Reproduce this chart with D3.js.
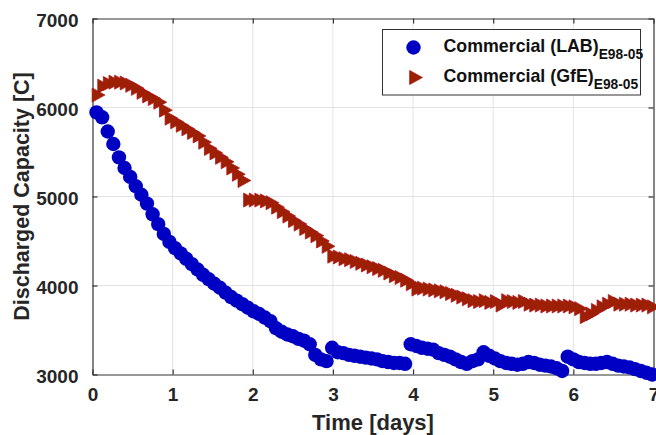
<!DOCTYPE html>
<html>
<head>
<meta charset="utf-8">
<script src="https://cdn.jsdelivr.net/npm/d3@7"></script>
<style>
  html, body { margin: 0; padding: 0; background: #fff; }
  svg { display: block; font-family: "Liberation Sans", Arial, sans-serif; }
</style>
</head>
<body>
<svg id="chart" width="656" height="435"></svg>
<script>
// Sampling times (days) shared by both cells
const days = [0.05,0.12,0.19,0.26,0.33,0.40,0.47,0.54,0.61,0.68,0.75,0.82,0.89,0.96,1.03,1.10,1.17,1.24,1.31,1.38,
  1.45,1.52,1.59,1.66,1.73,1.80,1.87,1.94,2.01,2.08,2.15,2.22,2.29,2.36,2.43,2.50,2.57,2.64,2.71,2.78,
  2.85,2.92,2.99,3.06,3.13,3.20,3.27,3.34,3.41,3.48,3.55,3.62,3.69,3.76,3.83,3.90,3.97,4.04,4.11,4.18,
  4.25,4.32,4.39,4.46,4.53,4.60,4.67,4.74,4.81,4.88,4.95,5.02,5.09,5.16,5.23,5.30,5.37,5.44,5.51,5.58,
  5.65,5.72,5.79,5.86,5.93,6.00,6.07,6.14,6.21,6.28,6.35,6.42,6.49,6.56,6.63,6.70,6.77,6.84,6.91,6.98];

// Discharged capacity [C], Commercial (LAB) E98-05
const capacityLAB = [5945,5890,5730,5590,5440,5320,5220,5115,5020,4920,4800,4690,4580,4490,4420,4360,4300,4240,4180,4120,
  4070,4020,3975,3920,3870,3830,3790,3750,3710,3680,3640,3600,3520,3480,3450,3430,3400,3380,3340,3220,
  3170,3150,3300,3250,3240,3220,3210,3200,3190,3180,3170,3150,3140,3130,3130,3120,3340,3320,3300,3290,
  3280,3240,3220,3200,3170,3140,3120,3150,3170,3250,3210,3180,3150,3130,3120,3110,3120,3140,3130,3110,
  3100,3090,3070,3040,3200,3170,3140,3130,3120,3120,3130,3140,3120,3100,3090,3080,3060,3040,3020,3000];

// Discharged capacity [C], Commercial (GfE) E98-05
const capacityGfE = [6140,6240,6270,6285,6285,6275,6250,6215,6170,6130,6100,6060,5970,5880,5840,5800,5760,5720,5680,5610,
  5540,5490,5440,5390,5320,5250,5180,4960,4960,4960,4950,4930,4880,4830,4780,4730,4690,4640,4600,4560,
  4500,4440,4330,4320,4300,4290,4270,4250,4230,4210,4190,4170,4140,4110,4090,4060,4020,3960,3970,3960,
  3950,3940,3930,3910,3890,3870,3850,3830,3820,3830,3810,3820,3780,3830,3820,3810,3820,3790,3780,3780,
  3770,3770,3770,3770,3770,3760,3740,3650,3680,3720,3760,3790,3820,3790,3790,3790,3780,3780,3780,3760];

const xTicks = [0,1,2,3,4,5,6,7];
const yTicks = [3000,4000,5000,6000,7000];
const legendLabels = [
  { main: "Commercial (LAB)", sub: "E98-05" },
  { main: "Commercial (GfE)", sub: "E98-05" }
];

const blue = "#0000c4";
const redFill = "#9a2200";
const redEdge = "#b3121c";
const axisColor = "#333333";

const svg = d3.select("#chart");
const m = { left: 92.5, top: 18.5, right: 653.5, bottom: 374.5 };

const x = d3.scaleLinear().domain([0, 7]).range([m.left, m.right]);
const y = d3.scaleLinear().domain([3000, 7000]).range([m.bottom, m.top]);

// grid
const grid = svg.append("g");
grid.selectAll("line.gx").data(xTicks.slice(1, -1)).join("line")
  .attr("x1", d => x(d)).attr("x2", d => x(d))
  .attr("y1", m.top).attr("y2", m.bottom)
  .attr("stroke", "#e3e3e3").attr("stroke-width", 1);
grid.selectAll("line.gy").data(yTicks.slice(1, -1)).join("line")
  .attr("x1", m.left).attr("x2", m.right)
  .attr("y1", d => y(d)).attr("y2", d => y(d))
  .attr("stroke", "#e3e3e3").attr("stroke-width", 1);

// axes with inward ticks on all four sides
const tickLen = 5;
const styleAxis = g => {
  g.select(".domain").attr("stroke", axisColor).attr("stroke-width", 1.2);
  g.selectAll(".tick line").attr("stroke", axisColor).attr("stroke-width", 1.2);
};
const bottomAxis = svg.append("g").attr("transform", `translate(0,${m.bottom})`)
  .call(d3.axisBottom(x).tickValues(xTicks).tickSizeInner(-tickLen).tickSizeOuter(0).tickPadding(13).tickFormat(d3.format("d")));
const topAxis = svg.append("g").attr("transform", `translate(0,${m.top})`)
  .call(d3.axisTop(x).tickValues(xTicks).tickSizeInner(-tickLen).tickSizeOuter(0).tickFormat(""));
const leftAxis = svg.append("g").attr("transform", `translate(${m.left},0)`)
  .call(d3.axisLeft(y).tickValues(yTicks).tickSizeInner(-tickLen).tickSizeOuter(0).tickPadding(14).tickFormat(d3.format("d")));
const rightAxis = svg.append("g").attr("transform", `translate(${m.right},0)`)
  .call(d3.axisRight(y).tickValues(yTicks).tickSizeInner(-tickLen).tickSizeOuter(0).tickFormat(""));
[bottomAxis, topAxis, leftAxis, rightAxis].forEach(styleAxis);

bottomAxis.selectAll(".tick text")
  .attr("font-size", 19).attr("font-weight", "bold").attr("fill", "#262626")
  .attr("font-family", "'Liberation Sans', Arial, sans-serif");
leftAxis.selectAll(".tick text")
  .attr("font-size", 19).attr("font-weight", "bold").attr("fill", "#262626")
  .attr("font-family", "'Liberation Sans', Arial, sans-serif")
  .attr("dy", "0.42em");

// axis titles
svg.append("text")
  .attr("x", (m.left + m.right) / 2).attr("y", 430)
  .attr("text-anchor", "middle").attr("font-size", 22).attr("font-weight", "bold")
  .attr("fill", "#262626").text("Time [days]");
svg.append("text")
  .attr("transform", `translate(29,${(m.top + m.bottom) / 2}) rotate(-90)`)
  .attr("text-anchor", "middle").attr("font-size", 21.5).attr("font-weight", "bold")
  .attr("fill", "#262626").text("Discharged Capacity [C]");

// markers
const r = 7.2;
const tri = (cx, cy, s) => `M${cx - s * 0.62},${cy - s}L${cx + s * 1.2},${cy}L${cx - s * 0.62},${cy + s}Z`;

svg.append("g").selectAll("circle").data(days.map((d, i) => [d, capacityLAB[i]])).join("circle")
  .attr("cx", d => x(d[0])).attr("cy", d => y(d[1])).attr("r", r)
  .attr("fill", blue);

svg.append("g").selectAll("path").data(days.map((d, i) => [d, capacityGfE[i]])).join("path")
  .attr("d", d => tri(x(d[0]), y(d[1]), 7))
  .attr("fill", redFill).attr("stroke", redEdge).attr("stroke-width", 0.8);

// legend
const lg = svg.append("g");
lg.append("rect").attr("x", 382.5).attr("y", 29.5).attr("width", 258).attr("height", 65.5)
  .attr("fill", "#fff").attr("stroke", axisColor).attr("stroke-width", 1);
lg.append("circle").attr("cx", 413.5).attr("cy", 47.5).attr("r", r).attr("fill", blue);
lg.append("path").attr("d", tri(414, 77.5, 7)).attr("fill", redFill).attr("stroke", redEdge).attr("stroke-width", 0.8);
legendLabels.forEach((l, i) => {
  const t = lg.append("text").attr("x", 443.5).attr("y", 51.5 + i * 30)
    .attr("font-size", 17.8).attr("font-weight", "bold").attr("fill", "#111");
  t.append("tspan").text(l.main);
  t.append("tspan").attr("dy", 7).attr("font-size", 13.8).text(l.sub);
});
</script>
</body>
</html>
